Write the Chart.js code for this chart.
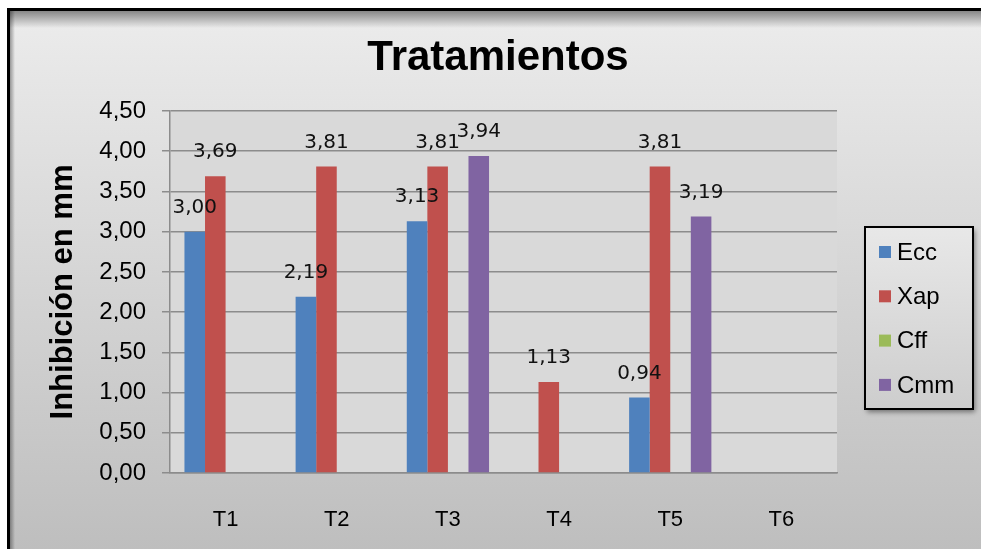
<!DOCTYPE html>
<html>
<head>
<meta charset="utf-8">
<script src="https://cdn.jsdelivr.net/npm/chart.js@4.4.1/dist/chart.umd.min.js"></script>
<style>
  html, body { margin: 0; padding: 0; background: #fff; }
  #wrap { width: 981px; height: 549px; }
</style>
</head>
<body>
<div id="wrap"><canvas id="chart" width="981" height="549"></canvas></div>
<script>
const categories = ["T1", "T2", "T3", "T4", "T5", "T6"];
const seriesNames = ["Ecc", "Xap", "Cff", "Cmm"];
const ecc = [3.00, 2.19, 3.13, null, 0.94, null];
const xap = [3.69, 3.81, 3.81, 1.13, 3.81, null];
const cff = [null, null, null, null, null, null];
const cmm = [null, null, 3.94, null, 3.19, null];
const seriesColors = ["#4f81bd", "#c0504d", "#9bbb59", "#8064a2"];
const yMin = 0;
const yMax = 4.5;
const yStep = 0.5;
const chartTitle = "Tratamientos";
const yTitle = "Inhibición en mm";

const fmt = (v) => v.toFixed(2).replace(".", ",");

// frame, shaded background and plot area fill
const framePlugin = {
  id: "frame",
  beforeDraw(chart) {
    const { ctx, width, height, chartArea: a } = chart;
    ctx.save();
    ctx.fillStyle = "#fff";
    ctx.fillRect(0, 0, width, height);

    const bg = ctx.createLinearGradient(0, 10, 0, height);
    bg.addColorStop(0, "#ececec");
    bg.addColorStop(1, "#bebebe");
    ctx.fillStyle = bg;
    ctx.fillRect(9, 9, width - 9, height - 9);

    const top = ctx.createLinearGradient(0, 10, 0, 28);
    top.addColorStop(0, "rgba(0,0,0,0.45)");
    top.addColorStop(1, "rgba(0,0,0,0)");
    ctx.fillStyle = top;
    ctx.fillRect(9, 10, width - 9, 18);

    const left = ctx.createLinearGradient(10, 0, 15, 0);
    left.addColorStop(0, "rgba(0,0,0,0.35)");
    left.addColorStop(1, "rgba(0,0,0,0)");
    ctx.fillStyle = left;
    ctx.fillRect(10, 10, 5, height);

    ctx.fillStyle = "#000";
    ctx.fillRect(7, 8, width - 7, 3);
    ctx.fillRect(7, 8, 3, height);

    ctx.fillStyle = "#d9d9d9";
    ctx.fillRect(a.left, a.top, a.right - a.left, a.bottom - a.top);
    ctx.restore();
  },
};

// value labels above bars
const labelPlugin = {
  id: "valueLabels",
  afterDatasetsDraw(chart) {
    const ctx = chart.ctx;
    ctx.save();
    ctx.font = "20px 'DejaVu Sans'";
    ctx.fillStyle = "#111";
    ctx.textAlign = "center";
    ctx.textBaseline = "middle";
    chart.data.datasets.forEach((ds, i) => {
      const meta = chart.getDatasetMeta(i);
      meta.data.forEach((bar, j) => {
        const v = ds.data[j];
        if (v == null) return;
        ctx.fillText(fmt(v), bar.x, bar.y - 24);
      });
    });
    ctx.restore();
  },
};

// title and boxed legend
const decorPlugin = {
  id: "decor",
  afterDraw(chart) {
    const ctx = chart.ctx;
    ctx.save();
    ctx.font = "bold 42px 'Liberation Sans'";
    ctx.fillStyle = "#000";
    ctx.textAlign = "center";
    ctx.textBaseline = "alphabetic";
    ctx.fillText(chartTitle, 498, 70);

    const bx = 865, by = 227, bw = 108, bh = 182;
    ctx.shadowColor = "rgba(0,0,0,0.45)";
    ctx.shadowBlur = 5;
    ctx.shadowOffsetX = 2;
    ctx.shadowOffsetY = 3;
    const lg = ctx.createLinearGradient(0, by, 0, by + bh);
    lg.addColorStop(0, "#e8e8e8");
    lg.addColorStop(1, "#cdcdcd");
    ctx.fillStyle = lg;
    ctx.fillRect(bx, by, bw, bh);
    ctx.shadowColor = "transparent";
    ctx.strokeStyle = "#000";
    ctx.lineWidth = 2;
    ctx.strokeRect(bx, by, bw, bh);

    ctx.font = "24px 'Liberation Sans'";
    ctx.textAlign = "left";
    ctx.textBaseline = "middle";
    chart.data.datasets.forEach((ds, i) => {
      const cy = 252 + i * 44.3;
      ctx.fillStyle = ds.backgroundColor;
      ctx.fillRect(879, cy - 6, 12, 12);
      ctx.fillStyle = "#000";
      ctx.fillText(ds.label, 897, cy + 1);
    });
    ctx.restore();
  },
};

const seriesData = [ecc, xap, cff, cmm];

new Chart(document.getElementById("chart"), {
  type: "bar",
  data: {
    labels: categories,
    datasets: seriesNames.map((name, i) => ({
      label: name,
      data: seriesData[i],
      backgroundColor: seriesColors[i],
      borderWidth: 0,
      barPercentage: 1,
      categoryPercentage: 0.74,
    })),
  },
  plugins: [framePlugin, labelPlugin, decorPlugin],
  options: {
    responsive: false,
    animation: false,
    devicePixelRatio: 1,
    layout: { padding: { top: 111, right: 144, bottom: 0, left: 0 } },
    plugins: {
      legend: { display: false },
      title: { display: false },
      tooltip: { enabled: false },
    },
    scales: {
      x: {
        grid: { display: false },
        border: { display: true, color: "#8c8c8c", width: 1.5 },
        ticks: {
          color: "#000",
          padding: 26,
          font: { family: "'Liberation Sans'", size: 22 },
        },
        afterFit(scale) {
          scale.height = 76;
        },
      },
      y: {
        min: yMin,
        max: yMax,
        ticks: {
          stepSize: yStep,
          color: "#000",
          padding: 16,
          font: { family: "'Liberation Sans'", size: 24 },
          callback: (v) => fmt(v),
        },
        grid: { color: "#8c8c8c", lineWidth: 1.5, tickLength: 8 },
        border: { display: true, color: "#8c8c8c", width: 1.5 },
        title: {
          display: true,
          text: yTitle,
          color: "#000",
          padding: { top: 45, bottom: 0 },
          font: { family: "'Liberation Sans'", size: 31, weight: "bold" },
        },
        afterFit(scale) {
          scale.width = 170;
        },
      },
    },
  },
});
</script>
</body>
</html>
